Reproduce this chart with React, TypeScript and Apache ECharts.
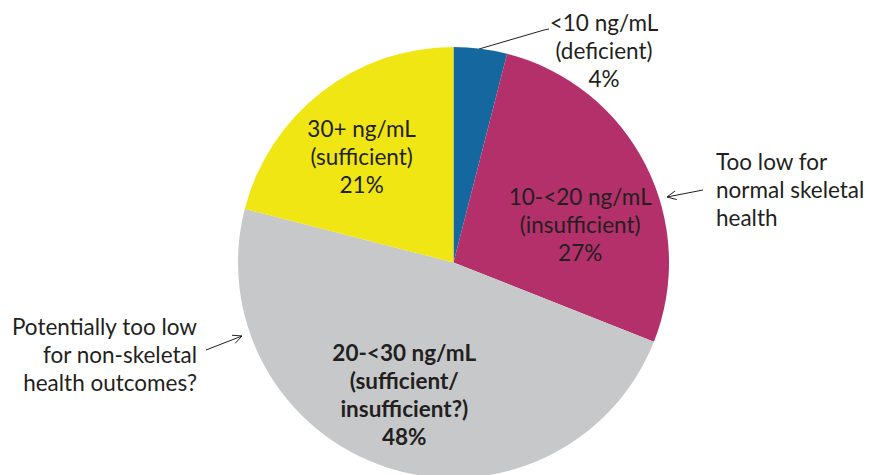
import React, { useEffect, useRef } from "react";
import * as echarts from "echarts";

// Serum 25(OH)D bands and share of the population in each
const categories = [
  "<10 ng/mL\n(deficient)",
  "10-<20 ng/mL\n(insufficient)",
  "20-<30 ng/mL\n(sufficient/\ninsufficient?)",
  "30+ ng/mL\n(sufficient)",
];
const shares = [4, 27, 48, 21];
const sliceColors = ["#14679f", "#b3306a", "#c7c8ca", "#f0e614"];

// Side notes pointing at the slices
const notes = [
  "Too low for\nnormal skeletal\nhealth",
  "Potentially too low\nfor non-skeletal\nhealth outcomes?",
];

const FONT = "Lato, 'Open Sans', sans-serif";
const SIZE = 22.5;
const TEXT = "#231f20";

// open arrowhead at (x2, y2)
function arrow(x1: number, y1: number, x2: number, y2: number) {
  const a = Math.atan2(y1 - y2, x1 - x2);
  const len = 10;
  const spread = 0.45;
  const p1 = [x2 + len * Math.cos(a + spread), y2 + len * Math.sin(a + spread)];
  const p2 = [x2 + len * Math.cos(a - spread), y2 + len * Math.sin(a - spread)];
  const style = { stroke: "#231f20", lineWidth: 1, fill: "none" };
  return [
    { type: "line", shape: { x1, y1, x2, y2 }, style },
    { type: "polyline", shape: { points: [p1, [x2, y2], p2] }, style },
  ];
}

export default function App() {
  const ref = useRef<HTMLDivElement>(null);

  useEffect(() => {
    if (!ref.current) return;
    const chart = echarts.init(ref.current, null, { renderer: "svg" });

    const offsets: Record<number, any> = {
      0: {
        x: 604,
        y: 50,
        align: "center",
        verticalAlign: "middle",
        labelLinePoints: [
          [549, 29],
          [544, 30],
          [479, 49],
        ],
      },
      1: { dx: 28, dy: 12 },
      2: { dx: -15, dy: 27 },
      3: { dx: -24, dy: -18 },
    };

    chart.setOption({
      animation: false,
      backgroundColor: "#ffffff",
      series: [
        {
          type: "pie",
          center: [453.5, 262.5],
          radius: 215.5,
          startAngle: 90,
          clockwise: true,
          avoidLabelOverlap: false,
          itemStyle: { borderWidth: 0 },
          emphasis: { disabled: true },
          label: {
            show: true,
            position: "inside",
            formatter: "{b}\n{c}%",
            fontFamily: FONT,
            fontSize: SIZE,
            lineHeight: 28,
            color: TEXT,
            align: "center",
          },
          labelLine: { show: false },
          labelLayout: (p: any) => offsets[p.dataIndex] || {},
          data: shares.map((v, i) => ({
            value: v,
            name: categories[i],
            itemStyle: { color: sliceColors[i] },
            ...(i === 0
              ? {
                  label: { position: "outside" },
                  labelLine: {
                    show: true,
                    smooth: false,
                    lineStyle: { color: "#231f20", width: 1 },
                  },
                }
              : {}),
            ...(i === 2 ? { label: { fontWeight: "bold" } } : {}),
          })),
        },
      ],
      graphic: [
        {
          type: "text",
          x: 716,
          y: 189,
          style: {
            text: notes[0],
            font: `${SIZE}px ${FONT}`,
            lineHeight: 28,
            fill: TEXT,
            textAlign: "left",
            textVerticalAlign: "middle",
          },
        },
        {
          type: "text",
          x: 197,
          y: 354,
          style: {
            text: notes[1],
            font: `${SIZE}px ${FONT}`,
            lineHeight: 28,
            fill: TEXT,
            textAlign: "right",
            textVerticalAlign: "middle",
          },
        },
        ...arrow(703, 190, 667, 197),
        ...arrow(206, 350, 242, 336),
      ],
    });

    return () => chart.dispose();
  }, []);

  return (
    <div
      ref={ref}
      style={{ position: "fixed", left: 0, top: 0, width: 869, height: 475 }}
    />
  );
}
